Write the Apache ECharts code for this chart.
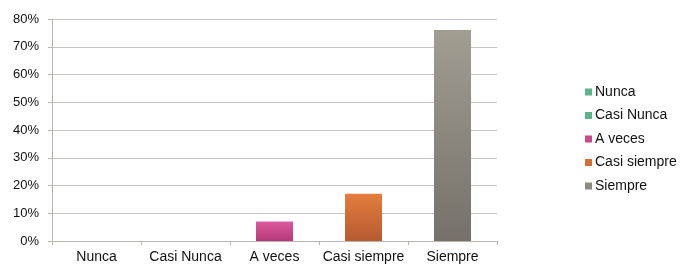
<!DOCTYPE html>
<html>
<head>
<meta charset="utf-8">
<script src="https://cdn.jsdelivr.net/npm/echarts@6/dist/echarts.min.js"></script>
<style>html,body{margin:0;padding:0;background:#fff;}#c{width:693px;height:277px;}</style>
</head>
<body>
<div id="c"></div>
<script>
var categories = ['Nunca', 'Casi Nunca', 'A veces', 'Casi siempre', 'Siempre'];
var values = [0, 0, 7, 17, 76];
var yTicks = [0, 10, 20, 30, 40, 50, 60, 70, 80];

var topColors = ['#5fbf8e', '#5fbf8e', '#dc5aa0', '#e37d3e', '#a29d91'];
var bottomColors = ['#4aa577', '#4aa577', '#b6387a', '#b65a2f', '#75716a'];
var legendColors = ['#5bb589', '#5bb589', '#c9478b', '#d56e36', '#8e8a80'];

var chart = echarts.init(document.getElementById('c'), null, {renderer: 'canvas'});
var series = categories.map(function (name, i) {
  var d = categories.map(function (_, j) { return j === i ? values[i] : null; });
  return {
    name: name,
    type: 'bar',
    stack: 'all',
    barWidth: 37,
    data: d,
    itemStyle: {
      color: new echarts.graphic.LinearGradient(0, 0, 0, 1, [
        {offset: 0, color: topColors[i]},
        {offset: 1, color: bottomColors[i]}
      ])
    }
  };
});

chart.setOption({
  animation: false,
  textStyle: {fontFamily: 'Liberation Sans, Arial, sans-serif'},
  grid: {left: 52, right: 196, top: 19, bottom: 36, containLabel: false},
  legend: {
    orient: 'vertical',
    left: 580,
    top: 80,
    icon: 'rect',
    itemWidth: 7,
    itemHeight: 7,
    itemGap: 9.5,
    textStyle: {fontSize: 14, color: '#111', padding: [0, 0, 0, -2]},
    data: categories.map(function (c, i) { return {name: c, itemStyle: {color: legendColors[i]}}; })
  },
  xAxis: {
    type: 'category',
    data: categories,
    axisLine: {lineStyle: {color: '#b8b4b0'}},
    axisTick: {show: true, length: 4, interval: 0, lineStyle: {color: '#b8b4b0'}},
    axisLabel: {fontSize: 14, color: '#111', margin: 9, interval: 0}
  },
  yAxis: {
    type: 'value',
    min: yTicks[0],
    max: yTicks[yTicks.length - 1],
    interval: 10,
    axisLine: {show: true, lineStyle: {color: '#b8b4b0'}},
    axisTick: {show: true, length: 4, lineStyle: {color: '#b8b4b0'}},
    splitLine: {lineStyle: {color: '#c8c4c0'}},
    axisLabel: {fontSize: 13, color: '#111', margin: 13, formatter: '{value}%'}
  },
  series: series
});
</script>
</body>
</html>
